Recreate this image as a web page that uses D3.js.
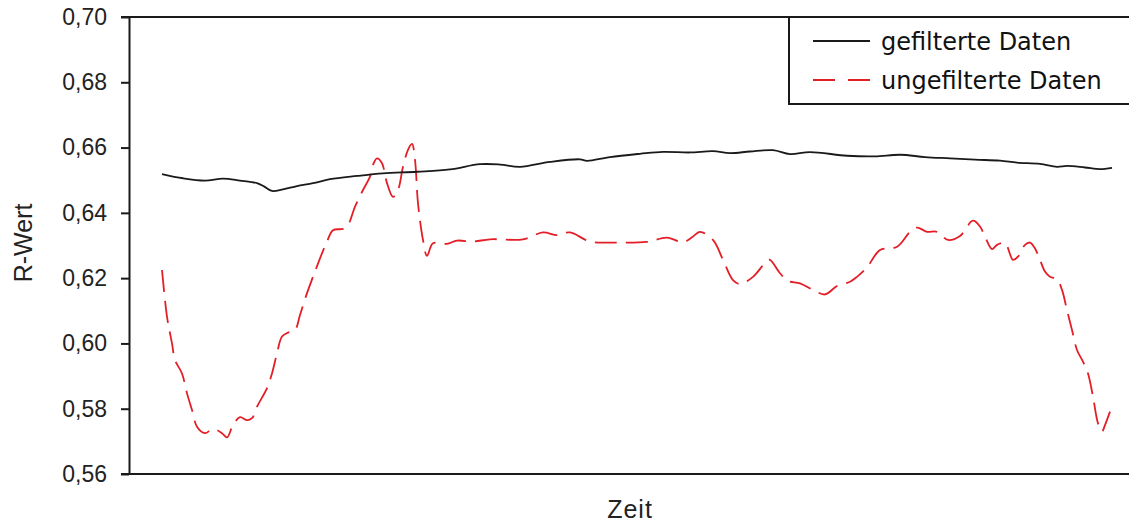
<!DOCTYPE html>
<html><head><meta charset="utf-8">
<script src="https://cdn.jsdelivr.net/npm/d3@7"></script>
<style>html,body{margin:0;padding:0;background:#fff;}svg{display:block;}</style>
</head><body>
<svg id="chart" width="1129" height="525"></svg>
<script>
const seriesNames = ["gefilterte Daten", "ungefilterte Daten"];
const yTicks = [0.56, 0.58, 0.60, 0.62, 0.64, 0.66, 0.68, 0.70];
const xTitle = "Zeit";
const yTitle = "R-Wert";

const timeFiltered = [3.3,5.4,7.6,9.4,11.1,12.8,13.5,14.3,15.4,16.8,18.4,20.1,22.8,25.4,28.8,32.1,35.1,37.1,39.1,42.1,45.1,45.8,48.1,51.1,53.4,56.1,58.4,60.1,62.1,64.4,66.1,68.1,71.8,74.6,77.1,79.6,82.1,84.6,87.1,88.8,91.1,92.8,93.8,95.6,97.1,98.3];
const valueFiltered = [0.6519,0.6506,0.6499,0.6505,0.6499,0.6491,0.6481,0.6467,0.6472,0.6482,0.6491,0.6503,0.6513,0.6521,0.6526,0.6533,0.6549,0.6548,0.6541,0.6556,0.6564,0.6559,0.6571,0.6581,0.6587,0.6585,0.6589,0.6583,0.6588,0.6592,0.6580,0.6586,0.6575,0.6573,0.6578,0.6571,0.6567,0.6563,0.6560,0.6554,0.6550,0.6541,0.6544,0.6539,0.6534,0.6538];

const timeRaw = [3.3,3.8,4.3,4.6,5.3,5.8,6.3,6.8,7.6,8.4,9.3,9.8,10.4,11.1,11.8,12.3,12.8,13.8,14.3,14.8,15.3,15.9,16.6,17.1,17.8,18.4,19.3,19.8,20.4,21.4,21.9,22.6,23.4,24.1,24.4,24.8,25.3,25.8,26.4,26.9,27.4,27.9,28.3,28.6,28.9,29.4,29.8,30.4,31.8,32.8,34.4,36.1,39.4,41.4,42.8,44.1,46.1,48.4,51.8,53.8,55.4,56.3,57.1,58.4,59.4,60.4,61.1,62.4,63.8,64.1,65.1,65.9,67.1,68.4,69.6,70.8,72.1,72.8,73.8,75.1,76.8,78.1,78.8,79.8,80.8,81.9,83.1,84.4,85.1,85.6,86.3,86.8,87.6,88.4,88.9,89.6,90.1,90.6,91.1,91.6,92.1,92.8,93.3,93.8,94.3,94.8,95.4,95.9,96.4,96.9,97.3,97.6,98.1];
const valueRaw = [0.6225,0.6082,0.6000,0.5949,0.5908,0.5847,0.5796,0.5745,0.5725,0.5738,0.5725,0.5712,0.5750,0.5774,0.5765,0.5771,0.5806,0.5863,0.5908,0.5970,0.6021,0.6033,0.6041,0.6087,0.6154,0.6204,0.6276,0.6312,0.6347,0.6351,0.6363,0.6419,0.6470,0.6511,0.6547,0.6567,0.6552,0.6491,0.6449,0.6470,0.6541,0.6593,0.6611,0.6562,0.6429,0.6317,0.6268,0.6307,0.6305,0.6315,0.6312,0.6319,0.6319,0.6340,0.6332,0.6340,0.6312,0.6309,0.6311,0.6324,0.6310,0.6325,0.6342,0.6317,0.6256,0.6194,0.6182,0.6204,0.6253,0.6256,0.6215,0.6192,0.6184,0.6164,0.6150,0.6176,0.6189,0.6204,0.6233,0.6286,0.6296,0.6342,0.6355,0.6342,0.6342,0.6317,0.6329,0.6376,0.6358,0.6327,0.6289,0.6302,0.6307,0.6256,0.6266,0.6302,0.6309,0.6291,0.6256,0.6220,0.6204,0.6197,0.6164,0.6102,0.6041,0.5980,0.5944,0.5908,0.5837,0.5755,0.5730,0.5750,0.5791];

const svg = d3.select("#chart");
const W = 1129, H = 525;
const m = {left: 129, top: 17, bottom: 474};
const x = d3.scaleLinear().domain([0, 100]).range([m.left, W]);
const y = d3.scaleLinear().domain([0.56, 0.70]).range([m.bottom, m.top]);
const loc = d3.formatLocale({decimal: ",", thousands: ".", grouping: [3], currency: ["", "€"]});
const fmt = loc.format(".2f");
const axisColor = "#1a1a1a";

// axes
const yAxis = svg.append("g").attr("transform", `translate(${m.left},0)`)
  .call(d3.axisLeft(y).tickValues(yTicks).tickFormat(fmt).tickSize(8).tickSizeOuter(0));
yAxis.select(".domain").attr("stroke", axisColor).attr("stroke-width", 2);
yAxis.selectAll(".tick line").attr("stroke", axisColor).attr("stroke-width", 2);
yAxis.selectAll(".tick text").attr("x", -22).attr("fill", "#222")
  .style("font-family", "'Liberation Sans', Arial, sans-serif").style("font-size", "23px");

// bottom and top lines
svg.append("line").attr("x1", m.left - 8).attr("x2", W).attr("y1", y(0.56)).attr("y2", y(0.56))
  .attr("stroke", axisColor).attr("stroke-width", 2);
svg.append("line").attr("x1", m.left - 8).attr("x2", W).attr("y1", y(0.70)).attr("y2", y(0.70))
  .attr("stroke", axisColor).attr("stroke-width", 2);

// lines
const lineGen = d3.line().x(d => x(d[0])).y(d => y(d[1])).curve(d3.curveCatmullRom.alpha(0.5));
const filtered = timeFiltered.map((t, i) => [t, valueFiltered[i]]);
const raw = timeRaw.map((t, i) => [t, valueRaw[i]]);

svg.append("path").datum(raw).attr("d", lineGen).attr("fill", "none")
  .attr("stroke", "#e41e26").attr("stroke-width", 1.8).attr("stroke-dasharray", "22,9");
svg.append("path").datum(filtered).attr("d", lineGen).attr("fill", "none")
  .attr("stroke", "#1a1a1a").attr("stroke-width", 1.8);

// titles
svg.append("text").attr("x", 630).attr("y", 518).attr("text-anchor", "middle")
  .style("font-family", "'Liberation Sans', Arial, sans-serif").style("font-size", "25px")
  .style("letter-spacing", "1px").attr("fill", "#222").text(xTitle);
svg.append("text").attr("transform", "translate(32,243) rotate(-90)").attr("text-anchor", "middle")
  .style("font-family", "'Liberation Sans', Arial, sans-serif").style("font-size", "25px")
  .attr("fill", "#222").text(yTitle);

// legend
const lg = svg.append("g");
lg.append("rect").attr("x", 789).attr("y", 17).attr("width", 400).attr("height", 87)
  .attr("fill", "#fff").attr("stroke", axisColor).attr("stroke-width", 2);
const legendItems = [
  {name: seriesNames[0], color: "#1a1a1a", dash: null, yy: 41},
  {name: seriesNames[1], color: "#e41e26", dash: "22,13", yy: 80}
];
legendItems.forEach(it => {
  const l = lg.append("line").attr("x1", 813).attr("x2", 870).attr("y1", it.yy).attr("y2", it.yy)
    .attr("stroke", it.color).attr("stroke-width", 1.8);
  if (it.dash) l.attr("stroke-dasharray", it.dash);
  lg.append("text").attr("x", 881).attr("y", it.yy).attr("dy", "0.36em")
    .style("font-family", "'DejaVu Sans', sans-serif").style("font-size", "24px")
    .attr("fill", "#111").text(it.name);
});
</script>
</body></html>
